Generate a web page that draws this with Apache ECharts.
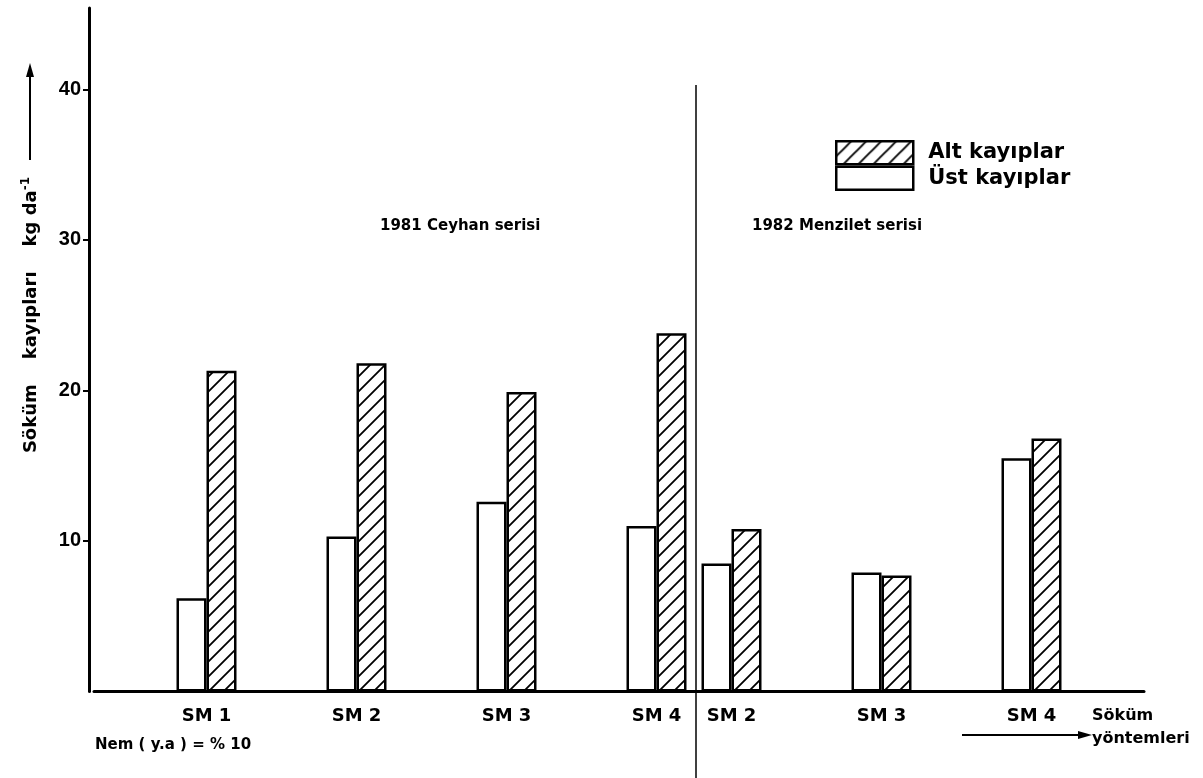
<!DOCTYPE html>
<html>
<head>
<meta charset="utf-8">
<script src="https://cdn.jsdelivr.net/npm/echarts@6/dist/echarts.min.js"></script>
<style>
html,body{margin:0;padding:0;background:#fff;}
#chart{width:1203px;height:778px;}
</style>
</head>
<body>
<div id="chart"></div>
<script>
// ---- data ----
const methods1981 = ['SM 1', 'SM 2', 'SM 3', 'SM 4'];
const methods1982 = ['SM 2', 'SM 3', 'SM 4'];
const ust1981 = [6.2, 10.3, 12.6, 11.0];   // Üst kayıplar (open bars)
const alt1981 = [21.3, 21.8, 19.9, 23.8];  // Alt kayıplar (hatched bars)
const ust1982 = [8.5, 7.9, 15.5];
const alt1982 = [10.8, 7.7, 16.8];
const yTicks = [10, 20, 30, 40];
const seriesNames = ['Üst kayıplar', 'Alt kayıplar'];

// ---- build the category slots (gaps between groups are layout only) ----
const cats = [], ustData = [], altData = [];
function slot(name, u, a) { cats.push(name); ustData.push(u); altData.push(a); }
slot('', null, null);
methods1981.forEach((m, i) => {
  slot(m, ust1981[i], alt1981[i]);
  if (i < methods1981.length - 1) slot('', null, null);
});
methods1982.forEach((m, i) => {
  slot(m, ust1982[i], alt1982[i]);
  slot('', null, null);
});

// ---- diagonal hatch pattern ("/") ----
function makeHatch() {
  const s = 15;
  const c = document.createElement('canvas');
  c.width = s; c.height = s;
  const g = c.getContext('2d');
  g.fillStyle = '#fff';
  g.fillRect(0, 0, s, s);
  g.strokeStyle = '#000';
  g.lineWidth = 1.8;
  g.lineCap = 'square';
  g.beginPath();
  g.moveTo(0, s); g.lineTo(s, 0);
  g.moveTo(-2, 2); g.lineTo(2, -2);
  g.moveTo(s - 2, s + 2); g.lineTo(s + 2, s - 2);
  g.stroke();
  return c;
}
const hatchFill = { image: makeHatch(), repeat: 'repeat' };

const FONT = 'DejaVu Sans';
const chart = echarts.init(document.getElementById('chart'), null, { renderer: 'canvas' });

chart.setOption({
  backgroundColor: '#fff',
  animation: false,
  grid: { left: 94, right: 59, top: 8, bottom: 86.5, containLabel: false },
  legend: {
    orient: 'vertical',
    left: 835, top: 140, padding: 0,
    icon: 'rect',
    itemWidth: 77, itemHeight: 23, itemGap: 0,
    data: ['Alt kayıplar', 'Üst kayıplar'],
    textStyle: { fontFamily: FONT, fontWeight: 'bold', fontSize: 21, color: '#000', padding: [0, 0, 0, 10] },
    itemStyle: { borderColor: '#000', borderWidth: 2.5 }
  },
  xAxis: {
    type: 'category',
    data: cats,
    boundaryGap: true,
    axisLine: { lineStyle: { color: '#000', width: 3 } },
    axisTick: { show: false },
    axisLabel: { interval: 0, margin: 16, fontFamily: FONT, fontWeight: 'bold', fontSize: 18, color: '#000' },
    splitLine: { show: false }
  },
  yAxis: {
    type: 'value',
    min: 0, max: 45.4,
    offset: 5,
    axisLine: { show: true, lineStyle: { color: '#000', width: 3 } },
    axisTick: { show: true, length: 6, customValues: yTicks, lineStyle: { color: '#000', width: 2 } },
    axisLabel: { customValues: yTicks, margin: 8, fontFamily: 'Liberation Sans', fontWeight: 'bold', fontSize: 20, color: '#000' },
    splitLine: { show: false }
  },
  series: [
    {
      name: seriesNames[0], type: 'bar', data: ustData, barWidth: 30, barGap: '0%',
      itemStyle: { color: '#fff', borderColor: '#000', borderWidth: 2.5 }
    },
    {
      name: seriesNames[1], type: 'bar', data: altData, barWidth: 30, barGap: '0%',
      itemStyle: { color: hatchFill, borderColor: '#000', borderWidth: 2.5 }
    }
  ],
  graphic: [
    // divider between the two years
    { type: 'line', shape: { x1: 696, y1: 85, x2: 696, y2: 778 }, style: { stroke: '#000', lineWidth: 1.5 }, z: 10 },
    { type: 'text', left: 380, top: 219, style: { text: '1981 Ceyhan serisi', font: 'bold 15px ' + FONT, fill: '#000' } },
    { type: 'text', left: 752, top: 219, style: { text: '1982 Menzilet serisi', font: 'bold 15px ' + FONT, fill: '#000' } },
    { type: 'text', left: 95, top: 738, style: { text: 'Nem ( y.a ) = % 10', font: 'bold 15px ' + FONT, fill: '#000' } },
    { type: 'text', left: 1092, top: 708, style: { text: 'Söküm', font: 'bold 16px ' + FONT, fill: '#000' } },
    { type: 'text', left: 1092, top: 731, style: { text: 'yöntemleri', font: 'bold 16px ' + FONT, fill: '#000' } },
    { type: 'line', shape: { x1: 962, y1: 735, x2: 1080, y2: 735 }, style: { stroke: '#000', lineWidth: 2 } },
    { type: 'polygon', shape: { points: [[1092, 735], [1078, 731], [1078, 739]] }, style: { fill: '#000' } },
    // y axis title
    { type: 'text', x: 31, y: 315, rotation: Math.PI / 2,
      style: { text: 'Söküm    kayıpları    kg da{s|-1}', font: 'bold 18px ' + FONT, fill: '#000',
               align: 'center', verticalAlign: 'middle', rich: { s: { font: 'bold 12px ' + FONT, verticalAlign: 'top', padding: [0,0,10,0] } } } },
    { type: 'line', shape: { x1: 30, y1: 160, x2: 30, y2: 75 }, style: { stroke: '#000', lineWidth: 2 } },
    { type: 'polygon', shape: { points: [[30, 63], [26, 77], [34, 77]] }, style: { fill: '#000' } }
  ]
});
</script>
</body>
</html>
